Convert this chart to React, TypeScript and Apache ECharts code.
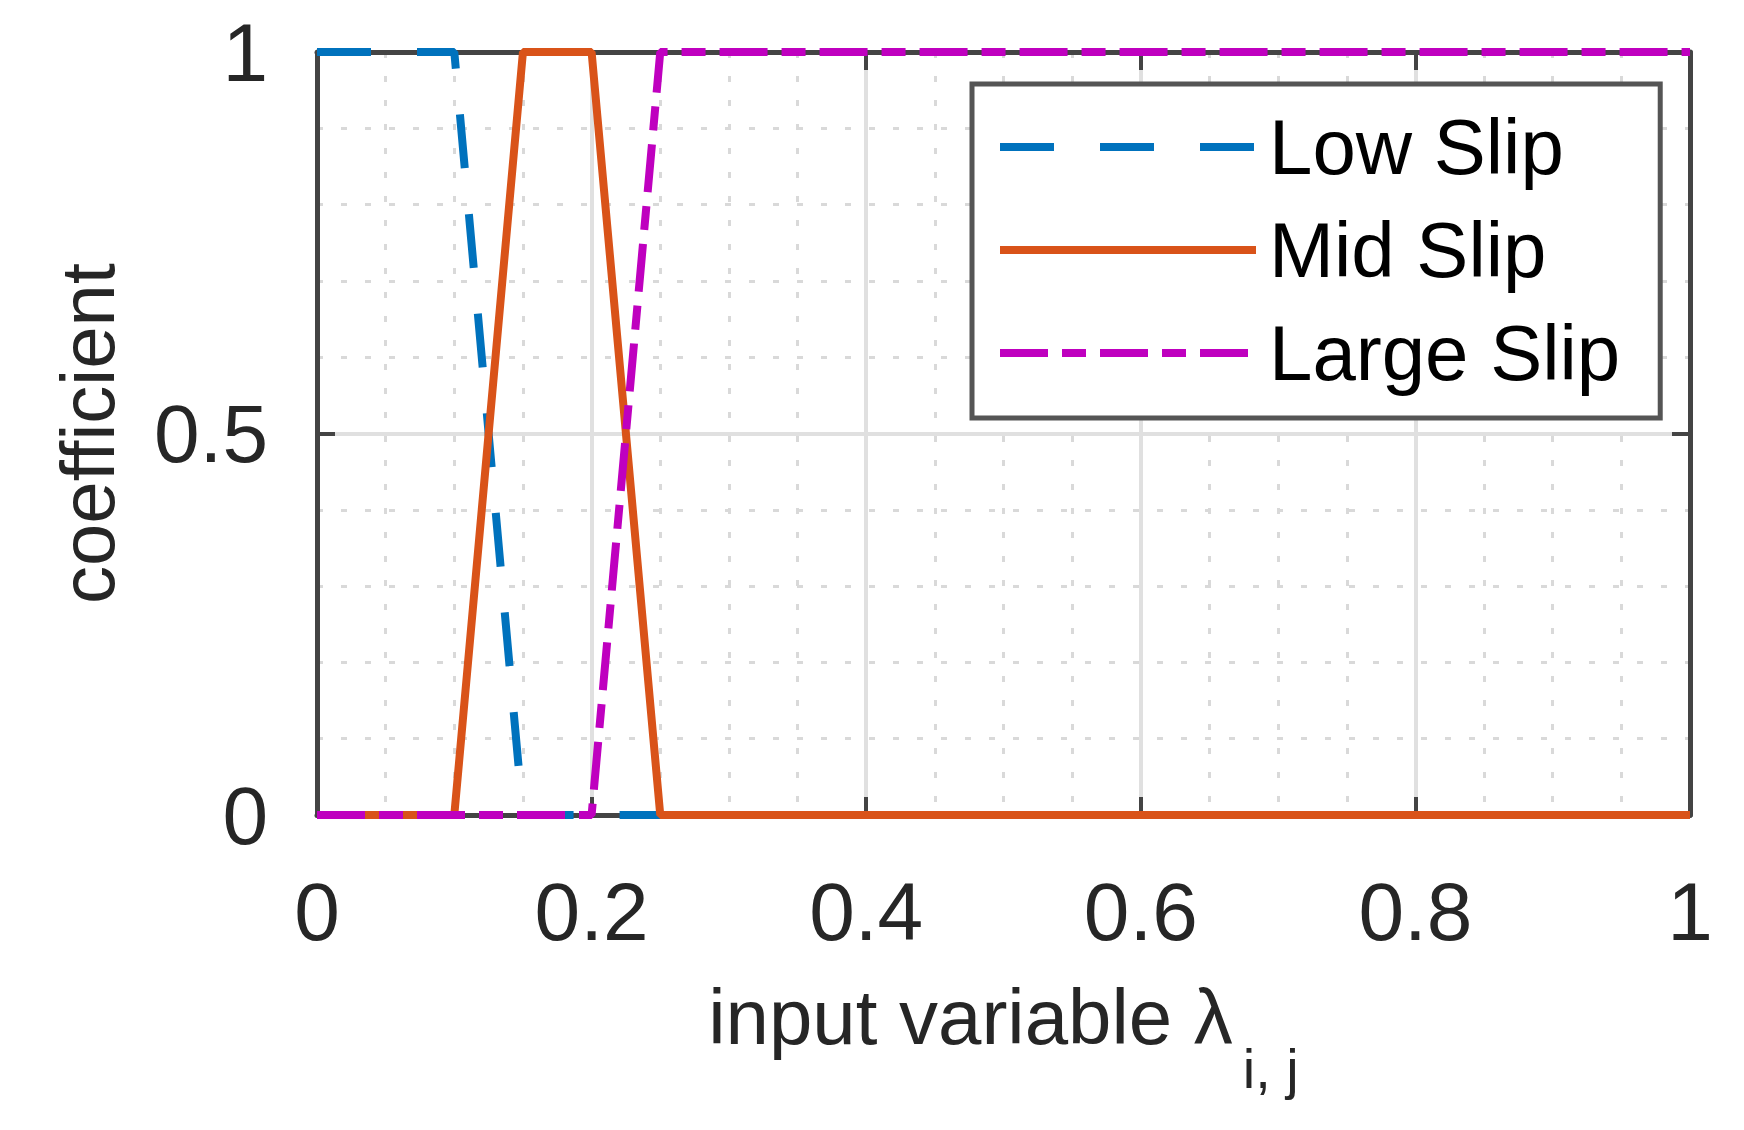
import React, { useEffect, useRef } from "react";
import * as echarts from "echarts";

// membership functions
const lowX = [0, 0.1, 0.15, 1];
const lowY = [1, 1, 0, 0];
const midX = [0, 0.1, 0.15, 0.2, 0.25, 1];
const midY = [0, 0, 1, 1, 0, 0];
const largeX = [0, 0.2, 0.25, 1];
const largeY = [0, 0, 1, 1];

const seriesNames = ["Low Slip", "Mid Slip", "Large Slip"];
const xTicks = [0, 0.2, 0.4, 0.6, 0.8, 1];
const yTicks = [0, 0.5, 1];

const FONT = "'Liberation Sans', Arial, Helvetica, sans-serif";
const AXIS_COLOR = "#444444";
const TEXT_COLOR = "#262626";

const zip = (xs: number[], ys: number[]) => xs.map((x, i) => [x, ys[i]]);

const App: React.FC = () => {
  const chartRef = useRef<HTMLDivElement>(null);

  useEffect(() => {
    const dom = chartRef.current;
    if (!dom) return;
    const chart = echarts.init(dom, undefined, { renderer: "svg" });

    const xStep = xTicks[1] - xTicks[0];
    const yStep = yTicks[1] - yTicks[0];

    const majorSplit = { show: true, lineStyle: { color: "#e0e0e0", width: 4 } };
    const minorSplit = {
      show: true,
      lineStyle: { color: "#d9d9d9", width: 3, type: [6, 18] as number[] },
    };

    const baseX = {
      type: "value" as const,
      min: xTicks[0],
      max: xTicks[xTicks.length - 1],
      interval: xStep,
      axisLine: { show: true, onZero: false, lineStyle: { color: AXIS_COLOR, width: 5 } },
      axisTick: { show: true, inside: true, length: 18, lineStyle: { color: AXIS_COLOR, width: 4 } },
    };
    const baseY = {
      type: "value" as const,
      min: yTicks[0],
      max: yTicks[yTicks.length - 1],
      interval: yStep,
      axisLine: { show: true, onZero: false, lineStyle: { color: AXIS_COLOR, width: 5 } },
      axisTick: { show: true, inside: true, length: 18, lineStyle: { color: AXIS_COLOR, width: 4 } },
    };

    const option: echarts.EChartsOption = {
      animation: false,
      backgroundColor: "#ffffff",
      textStyle: { fontFamily: FONT },
      grid: { left: 309, top: 44, right: 46, bottom: 307, containLabel: false },
      legend: {
        data: seriesNames,
        orient: "vertical",
        left: 964,
        top: 76,
        padding: [24, 40, 26, 24],
        itemWidth: 256,
        itemHeight: 20,
        itemGap: 25,
        backgroundColor: "#ffffff",
        borderColor: "#555555",
        borderWidth: 5,
        itemStyle: { opacity: 0 },
        lineStyle: { width: 8 },
        textStyle: {
          fontFamily: FONT,
          fontSize: 78,
          color: "#000000",
          lineHeight: 78,
          padding: [0, 0, 0, 8],
        },
        selectedMode: false,
      },
      xAxis: [
        {
          ...baseX,
          position: "bottom",
          name: "{a|input variable λ}{b|i, j}",
          nameLocation: "middle",
          nameGap: 163,
          nameTextStyle: {
            rich: {
              a: {
                fontFamily: FONT,
                fontSize: 78,
                lineHeight: 90,
                color: TEXT_COLOR,
                verticalAlign: "top",
              },
              b: {
                fontFamily: FONT,
                fontSize: 56,
                lineHeight: 60,
                color: TEXT_COLOR,
                verticalAlign: "top",
                padding: [62, 0, 0, 10],
              },
            },
          },
          axisLabel: {
            fontFamily: FONT,
            fontSize: 82,
            color: TEXT_COLOR,
            margin: 55,
          },
          splitLine: majorSplit,
          minorTick: { show: false, splitNumber: 4 },
          minorSplitLine: minorSplit,
        },
        {
          ...baseX,
          position: "top",
          axisLabel: { show: false },
          splitLine: { show: false },
        },
      ],
      yAxis: [
        {
          ...baseY,
          position: "left",
          name: "coefficient",
          nameLocation: "middle",
          nameGap: 192,
          nameTextStyle: { fontFamily: FONT, fontSize: 76, color: TEXT_COLOR },
          axisLabel: {
            fontFamily: FONT,
            fontSize: 82,
            color: TEXT_COLOR,
            margin: 49,
          },
          splitLine: majorSplit,
          minorTick: { show: false, splitNumber: 5 },
          minorSplitLine: minorSplit,
        },
        {
          ...baseY,
          position: "right",
          axisLabel: { show: false },
          splitLine: { show: false },
        },
      ],
      series: [
        {
          name: seriesNames[0],
          type: "line",
          data: zip(lowX, lowY),
          symbol: "none",
          clip: false,
          lineStyle: { color: "#0072BD", width: 8, type: [54, 46] },
          itemStyle: { color: "#0072BD" },
        },
        {
          name: seriesNames[1],
          type: "line",
          data: zip(midX, midY),
          symbol: "none",
          clip: false,
          lineStyle: { color: "#D95319", width: 8, type: "solid" },
          itemStyle: { color: "#D95319" },
        },
        {
          name: seriesNames[2],
          type: "line",
          data: zip(largeX, largeY),
          symbol: "none",
          clip: false,
          lineStyle: { color: "#BF00BF", width: 8, type: [48, 14, 24, 14] },
          itemStyle: { color: "#BF00BF" },
        },
      ],
    };

    chart.setOption(option);
    return () => {
      chart.dispose();
    };
  }, []);

  return <div ref={chartRef} style={{ width: "1728px", height: "1114px" }} />;
};

export default App;
